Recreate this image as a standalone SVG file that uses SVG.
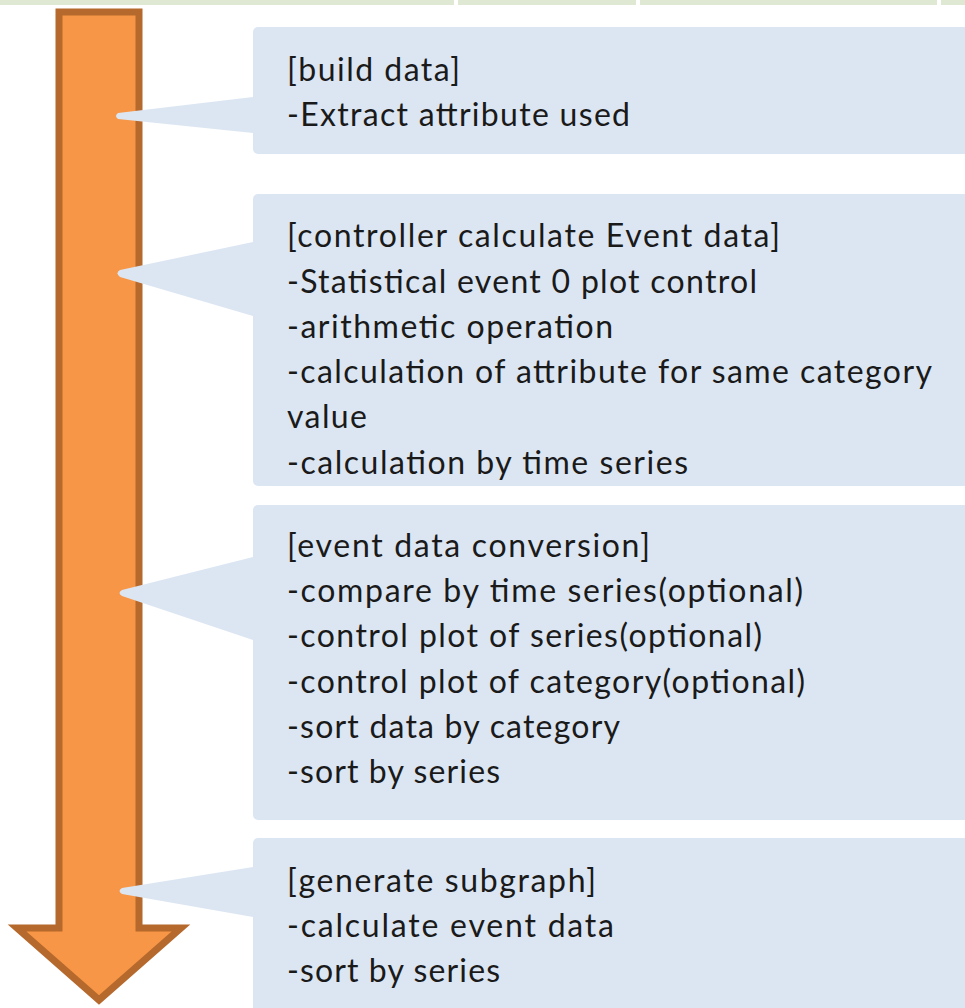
<svg xmlns="http://www.w3.org/2000/svg" width="965" height="1008" viewBox="0 0 965 1008">
<style>
.box{fill:#dce6f2}
.t{font-family:Lato,"Liberation Sans",sans-serif;font-size:32px;fill:#1a1a1a}
</style>
<rect x="0" y="0" width="965" height="1008" fill="#ffffff"/>
<g id="topbar">
<rect x="0" y="0" width="965" height="5" fill="#dfe8d3"/>
<rect x="454" y="0" width="4" height="5" fill="#ffffff"/>
<rect x="636" y="0" width="4" height="5" fill="#ffffff"/>
<rect x="937" y="0" width="4" height="5" fill="#ffffff"/>
</g>
<g id="arrow">
<polygon points="59,12 139,12 139,928 181,928 99,1000 17,928 59,928" fill="#f79646" stroke="#b5692d" stroke-width="7"/>
</g>
<g id="connectors">
<path class="box" d="M253,97 L118,113 Q114,116 118,119 L253,133 Z"/>
<path class="box" d="M253,242 L120,270 Q115,273 120,277 L253,316 Z"/>
<path class="box" d="M253,557 L122,590 Q117,593 122,596 L253,640 Z"/>
<path class="box" d="M253,867 L122,888 Q117,891 122,894 L253,917 Z"/>
</g>
<g id="node1">
<rect class="box" x="253" y="27" width="730" height="127" rx="5"/>
<text class="t" x="287" y="81" textLength="173" lengthAdjust="spacing">[build data]</text>
<text class="t" x="287" y="126" textLength="343" lengthAdjust="spacing">-Extract attribute used</text>
</g>
<g id="node2">
<rect class="box" x="253" y="194" width="730" height="292" rx="5"/>
<text class="t" x="287" y="247" textLength="493" lengthAdjust="spacing">[controller calculate Event data]</text>
<text class="t" x="287" y="293" textLength="470" lengthAdjust="spacing">-Statistical event 0 plot control</text>
<text class="t" x="287" y="338" textLength="326" lengthAdjust="spacing">-arithmetic operation</text>
<text class="t" x="287" y="383" textLength="645" lengthAdjust="spacing">-calculation of attribute for same category</text>
<text class="t" x="287" y="428" textLength="80" lengthAdjust="spacing">value</text>
<text class="t" x="287" y="474" textLength="401" lengthAdjust="spacing">-calculation by time series</text>
</g>
<g id="node3">
<rect class="box" x="253" y="505" width="730" height="315" rx="5"/>
<text class="t" x="287" y="557" textLength="363" lengthAdjust="spacing">[event data conversion]</text>
<text class="t" x="287" y="602" textLength="516" lengthAdjust="spacing">-compare by time series(optional)</text>
<text class="t" x="287" y="647" textLength="475" lengthAdjust="spacing">-control plot of series(optional)</text>
<text class="t" x="287" y="693" textLength="518" lengthAdjust="spacing">-control plot of category(optional)</text>
<text class="t" x="287" y="738" textLength="333" lengthAdjust="spacing">-sort data by category</text>
<text class="t" x="287" y="783" textLength="213" lengthAdjust="spacing">-sort by series</text>
</g>
<g id="node4">
<rect class="box" x="253" y="838" width="730" height="190" rx="5"/>
<text class="t" x="287" y="892" textLength="309" lengthAdjust="spacing">[generate subgraph]</text>
<text class="t" x="287" y="937" textLength="327" lengthAdjust="spacing">-calculate  event data</text>
<text class="t" x="287" y="982" textLength="213" lengthAdjust="spacing">-sort by series</text>
</g>
</svg>
